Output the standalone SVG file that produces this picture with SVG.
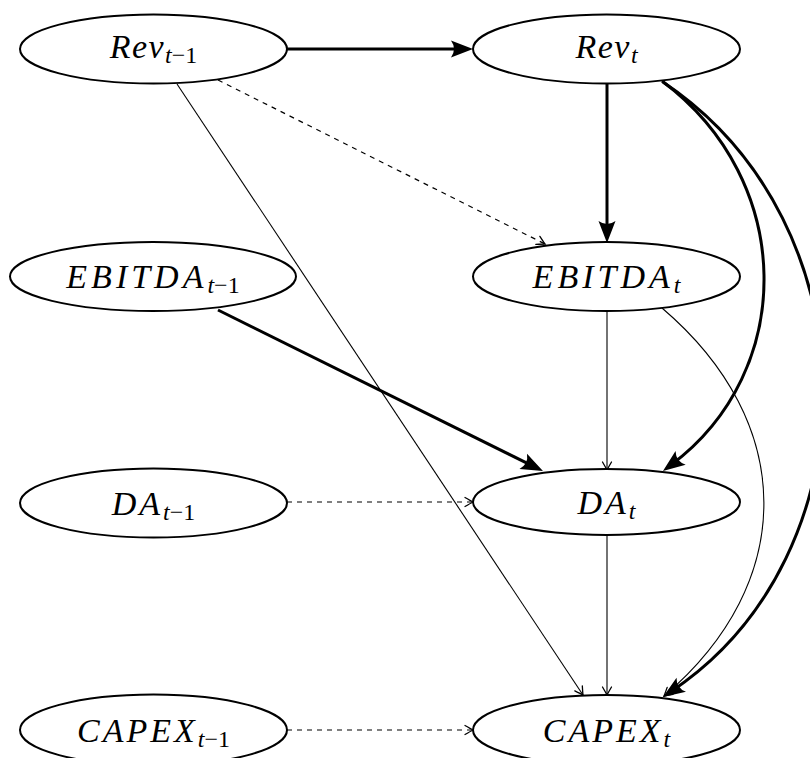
<svg xmlns="http://www.w3.org/2000/svg" width="810" height="758" viewBox="0 0 810 758">
<style>
.node ellipse{fill:#fff;stroke:#000;stroke-width:2}
.lbl{font-family:"Liberation Serif","Times New Roman",serif;font-style:italic;font-size:34px;fill:#000;text-anchor:middle}
.sub{font-size:24px;letter-spacing:0}
.rm{font-style:normal}
.thick{fill:none;stroke:#000;stroke-width:3;marker-end:url(#big)}
.thin{fill:none;stroke:#000;stroke-width:1.1;marker-end:url(#small)}
.dash{fill:none;stroke:#000;stroke-width:1.2;stroke-dasharray:5 5;marker-end:url(#small)}
</style>
<defs>
<marker id="big" markerUnits="userSpaceOnUse" orient="auto" refX="0" refY="0" markerWidth="30" markerHeight="30" overflow="visible">
<path d="M10,0 L-12,-8.5 Q-6,0 -12,8.5 Z" fill="#000"/>
</marker>
<marker id="small" markerUnits="userSpaceOnUse" orient="auto" refX="0" refY="0" markerWidth="20" markerHeight="20" overflow="visible">
<path d="M-8,-4.5 Q-2,-1 0,0 Q-2,1 -8,4.5" fill="none" stroke="#000" stroke-width="1.3" stroke-linecap="round"/>
</marker>
</defs>
<rect width="810" height="758" fill="#fff"/>
<g id="connectors">
<path class="thick" d="M287,49 L463,49"/>
<path class="dash" d="M218,80 L545,244"/>
<path class="thin" d="M177,84 L583,695"/>
<path class="thick" d="M607,83 L607,233"/>
<path class="thick" d="M662,81 C796,181 797,371 671,465"/>
<path class="thick" d="M663,82 C875,224 875,555 671.3,691.4"/>
<path class="thick" d="M218,310 L534,466.6"/>
<path class="thin" d="M607,310 L607,470"/>
<path class="thin" d="M662,308 C797,423 798,582 664,696"/>
<path class="dash" d="M287,502 L473,502"/>
<path class="thin" d="M607,534 L607,695"/>
<path class="dash" d="M287,730 L473,730"/>
</g>
<g id="rev_prev" class="node"><ellipse cx="153.5" cy="49" rx="133.5" ry="34.5"/><text class="lbl" x="153.5" y="58" style="letter-spacing:1.5px">Rev<tspan class="sub" dy="5">t<tspan class="rm">−1</tspan></tspan></text></g>
<g id="rev_t" class="node"><ellipse cx="606.5" cy="49" rx="133.5" ry="34.5"/><text class="lbl" x="606.5" y="58" style="letter-spacing:1.5px">Rev<tspan class="sub" dy="5">t</tspan></text></g>
<g id="ebitda_prev" class="node"><ellipse cx="153" cy="276.5" rx="143" ry="34.5"/><text class="lbl" x="153" y="288" style="letter-spacing:4px">EBITDA<tspan class="sub" dy="5">t<tspan class="rm">−1</tspan></tspan></text></g>
<g id="ebitda_t" class="node"><ellipse cx="606.5" cy="276.5" rx="133.5" ry="34.5"/><text class="lbl" x="606.5" y="288" style="letter-spacing:4px">EBITDA<tspan class="sub" dy="5">t</tspan></text></g>
<g id="da_prev" class="node"><ellipse cx="153.5" cy="503" rx="133.5" ry="34.5"/><text class="lbl" x="153.5" y="515" style="letter-spacing:3px">DA<tspan class="sub" dy="5">t<tspan class="rm">−1</tspan></tspan></text></g>
<g id="da_t" class="node"><ellipse cx="606.5" cy="502" rx="133.5" ry="33"/><text class="lbl" x="606.5" y="514" style="letter-spacing:3px">DA<tspan class="sub" dy="5">t</tspan></text></g>
<g id="capex_prev" class="node"><ellipse cx="153.5" cy="730" rx="133.5" ry="35.5"/><text class="lbl" x="153.5" y="742" style="letter-spacing:3px">CAPEX<tspan class="sub" dy="5">t<tspan class="rm">−1</tspan></tspan></text></g>
<g id="capex_t" class="node"><ellipse cx="606.5" cy="730" rx="133.5" ry="35"/><text class="lbl" x="606.5" y="742" style="letter-spacing:3px">CAPEX<tspan class="sub" dy="5">t</tspan></text></g>
</svg>
